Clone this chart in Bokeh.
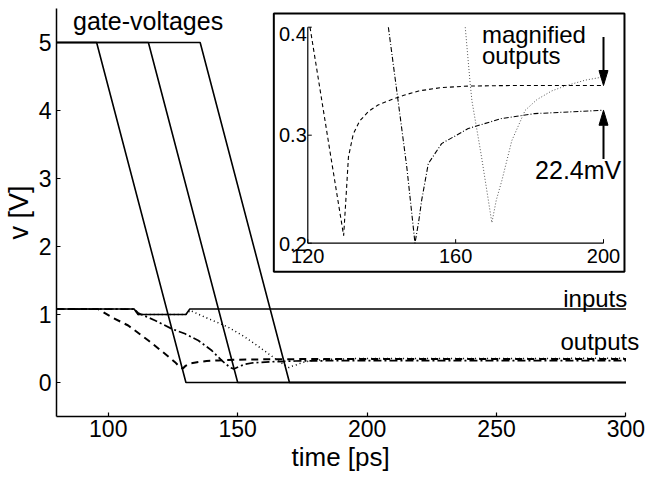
from bokeh.plotting import figure
from bokeh.models import Range1d, Label, FixedTicker, Title
from bokeh.core.properties import value
from bokeh.embed import file_html
from bokeh.resources import INLINE

FONT = "Liberation Sans"

# ---------------- data ----------------
# gate voltages: three ramps 5 V -> 0 V
gate1_t = [80, 95.5, 130, 300]
gate2_t = [80, 115.5, 150, 300]
gate3_t = [80, 135.5, 170, 300]
gate_v = [5, 5, 0, 0]

# inputs
input_t = [80, 110, 111.5, 130, 131.5, 300]
input_v = [1.08, 1.08, 1.0, 1.0, 1.08, 1.08]

# outputs (main view)
out1_t = [80, 96.1, 101.3, 107.7, 115.5, 121.9, 125.8, 127.7, 128.8, 129.7, 131.5, 134.8, 138, 142.6, 150, 165, 200, 300]
out1_v = [1.08, 1.08, 0.96, 0.838, 0.618, 0.422, 0.299, 0.225, 0.205, 0.24, 0.28, 0.30, 0.315, 0.325, 0.335, 0.343, 0.346, 0.347]
out2_t = [80, 110, 111.6, 118.1, 124.5, 129.7, 134.8, 140, 143.8, 147.1, 148.5, 150.5, 153, 156, 160.6, 165, 172.3, 185, 200, 300]
out2_v = [1.08, 1.08, 1.02, 0.912, 0.79, 0.716, 0.618, 0.47, 0.324, 0.22, 0.2, 0.235, 0.27, 0.29, 0.30, 0.308, 0.316, 0.32, 0.323, 0.323]
out3_t = [80, 110, 111.5, 130, 131.6, 137.4, 146.4, 152.9, 159.3, 164.5, 168.4, 169.8, 171, 172.5, 175.2, 178.8, 186, 195, 200, 300]
out3_v = [1.08, 1.08, 1.0, 1.0, 1.06, 0.96, 0.813, 0.666, 0.495, 0.35, 0.25, 0.22, 0.24, 0.258, 0.295, 0.323, 0.341, 0.351, 0.354, 0.355]

# magnified outputs (inset, visible part)
mag1_t = [120.6, 123.0, 126.0, 129.7, 130.3, 131.0, 132.3, 134.0, 136.4, 139.0, 142.7, 146.0, 150.0, 156.0, 163.4, 175.0, 200.0]
mag1_v = [0.400, 0.349, 0.285, 0.207, 0.24, 0.28, 0.301, 0.313, 0.322, 0.328, 0.333, 0.337, 0.341, 0.344, 0.3455, 0.346, 0.346]
mag2_t = [141.8, 144.5, 146.8, 149.0, 150.0, 150.8, 152.6, 156.2, 163.4, 172.4, 181.4, 200.0]
mag2_v = [0.400, 0.33, 0.27, 0.2, 0.22, 0.2396, 0.2737, 0.2922, 0.3062, 0.3154, 0.32, 0.3231]
mag3_t = [162.6, 163.9, 164.4, 167.0, 169.8, 171.0, 172.5, 175.2, 178.8, 182.0, 186.0, 190.0, 195.1, 200.0]
mag3_v = [0.400, 0.349, 0.332, 0.28, 0.219, 0.24, 0.258, 0.295, 0.323, 0.333, 0.341, 0.346, 0.351, 0.354]

main_xticks = [100, 150, 200, 250, 300]
main_yticks = [0, 1, 2, 3, 4, 5]
inset_xticks = [120, 160, 200]
inset_yticks = [0.2, 0.3, 0.4]
inset_xlabels = ["120", "160", "200"]
inset_ylabels = ["0.2", "0.3", "0.4"]

# ---------------- main figure ----------------
p = figure(frame_width=585, frame_height=408,
           x_range=Range1d(80, 306), y_range=Range1d(-0.5, 5.5),
           output_backend="svg", toolbar_location=None,
           min_border_left=55, min_border_right=9, min_border_top=8, min_border_bottom=56,
           outline_line_color=None, background_fill_color="white", border_fill_color="white")
p.grid.visible = False

for ax, ticks in ((p.xaxis, main_xticks), (p.yaxis, main_yticks)):
    ax.ticker = FixedTicker(ticks=ticks)
    ax.minor_tick_line_color = None
    ax.major_tick_in = 4
    ax.major_tick_out = 0
    ax.axis_line_width = 1.5
    ax.major_tick_line_width = 1.2
    ax.major_label_text_font = FONT
    ax.major_label_text_font_size = "23px"
    ax.major_label_text_color = "black"
p.xaxis.bounds = (80, 300)
p.xaxis.major_label_standoff = 3
p.yaxis.major_label_standoff = 5
p.yaxis.axis_label = "v [V]"
p.yaxis.axis_label_text_font = FONT
p.yaxis.axis_label_text_font_size = "27px"
p.yaxis.axis_label_text_font_style = "normal"
p.yaxis.axis_label_text_color = "black"
p.yaxis.axis_label_standoff = 2
p.add_layout(Title(text="time [ps]", align="left", offset=235, text_font=FONT,
                   text_font_size="26px", text_font_style="normal", text_color="black",
                   standoff=0), "below")

for gt in (gate1_t, gate2_t, gate3_t):
    p.line(gt, gate_v, line_color="black", line_width=1.6)
p.line(input_t, input_v, line_color="black", line_width=1.6)
p.line(out1_t, out1_v, line_color="black", line_width=2, line_dash="7 5")
p.line(out2_t, out2_v, line_color="black", line_width=1.7, line_dash="8 3 2 3")
p.line(out3_t, out3_v, line_color="black", line_width=1.5, line_dash="1 3")

p.add_layout(Label(x=86.4, y=5.32, text="gate-voltages", text_font=FONT, text_font_size="25px",
                   text_baseline="alphabetic", text_color="black"))
p.add_layout(Label(x=300.5, y=1.24, text="inputs", text_font=FONT, text_font_size="24px",
                   text_align="right", text_baseline="alphabetic", text_color="black"))
p.add_layout(Label(x=305.1, y=0.60, text="outputs", text_font=FONT, text_font_size="24px",
                   text_align="right", text_baseline="alphabetic", text_color="black"))

# ---------------- inset (sub-coordinates inside the main figure) ----------------
ins_x = Range1d(120, 200)
ins_y = Range1d(0.2, 0.4)
ins = p.subplot(x_source=ins_x, y_source=ins_y,
                x_target=Range1d(177.08, 291.32), y_target=Range1d(2.0485, 5.225))

px_x = 296 / 80.0     # inset pixels per ps
px_y = 216 / 0.2      # inset pixels per volt

# white panel with frame
ins.quad(left=120 - 34 / px_x, right=200 + 21 / px_x,
         top=0.4 + 13.7 / px_y, bottom=0.2 - 28.5 / px_y,
         fill_color="white", line_color="black", line_width=2)

# inset axes
ins.line([120, 200], [0.2, 0.2], line_color="black", line_width=1.2)
ins.line([120, 120], [0.2, 0.4], line_color="black", line_width=1.2)
ins.ray(x=inset_xticks, y=[0.2] * 3, length=4, length_units="screen",
        angle=90, angle_units="deg", line_color="black", line_width=1)
ins.ray(x=[120] * 3, y=inset_yticks, length=4, length_units="screen",
        angle=0, angle_units="deg", line_color="black", line_width=1)
ins.text(x=inset_xticks, y=[0.2] * 3, text=inset_xlabels, text_align="center",
         text_baseline="top", y_offset=6, text_font=value(FONT),
         text_font_size=value("20px"), text_color="black")
ins.text(x=[120] * 3, y=inset_yticks, text=inset_ylabels, text_align="right",
         text_baseline="middle", x_offset=-1, y_offset=[1, 0, 7], text_font=value(FONT),
         text_font_size=value("20px"), text_color="black")

# inset curves
ins.line(mag1_t, mag1_v, line_color="black", line_width=1.1, line_dash="4 3")
ins.line(mag2_t, mag2_v, line_color="black", line_width=1.1, line_dash="5 2 1 2")
ins.line(mag3_t, mag3_v, line_color="#555555", line_width=1.0, line_dash="1 2")

# inset annotations
ins.text(x=[167.1, 167.1], y=[0.3934, 0.3734], text=["magnified", "outputs"],
         text_baseline="alphabetic", text_font=value(FONT), text_font_size=value("24px"),
         text_color="black")
ins.text(x=[181.5], y=[0.2679], text=["22.4mV"], text_baseline="alphabetic",
         text_font=value(FONT), text_font_size=value("25px"), text_color="black")

head_len = 15 / px_y
head_half = 4.5 / px_x
tip_hi = mag1_v[-1]
tip_lo = mag2_v[-1]
ins.segment(x0=[200, 200], y0=[0.391, 0.278], x1=[200, 200],
            y1=[tip_hi + head_len, tip_lo - head_len], line_color="black", line_width=2)
ins.patches(xs=[[200, 200 - head_half, 200 + head_half], [200, 200 - head_half, 200 + head_half]],
            ys=[[tip_hi, tip_hi + head_len, tip_hi + head_len], [tip_lo, tip_lo - head_len, tip_lo - head_len]],
            fill_color="black", line_color="black", line_width=1)

open("out.html", "w").write(file_html(p, INLINE))
